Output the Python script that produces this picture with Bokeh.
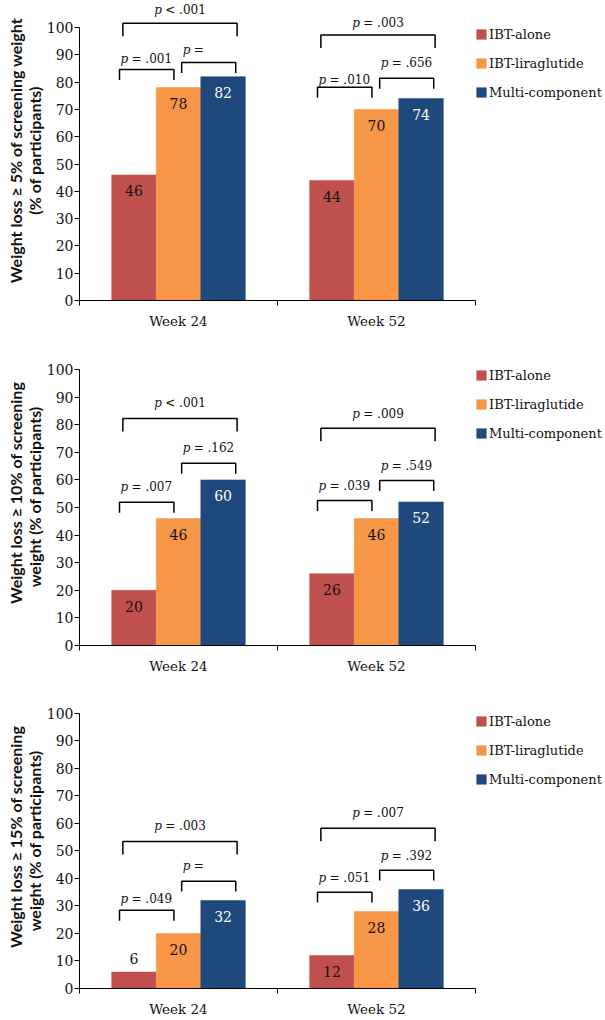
from bokeh.plotting import figure
from bokeh.layouts import column
from bokeh.models import Range1d, FixedTicker, Legend, LegendItem, ColumnDataSource
from bokeh.core.properties import value
from bokeh.embed import file_html
from bokeh.resources import INLINE

# ---------------- data ----------------
groups = ["IBT-alone", "IBT-liraglutide", "Multi-component"]
weeks = ["Week 24", "Week 52"]

loss5_week24 = [46, 78, 82]
loss5_week52 = [44, 70, 74]
loss10_week24 = [20, 46, 60]
loss10_week52 = [26, 46, 52]
loss15_week24 = [6, 20, 32]
loss15_week52 = [12, 28, 36]

# comparisons: (alone vs liraglutide), (liraglutide vs multi), (alone vs multi)
comparisons = [(0, 1), (1, 2), (0, 2)]
p5_week24 = ["= .001", "=", "< .001"]
p5_week52 = ["= .010", "= .656", "= .003"]
p10_week24 = ["= .007", "= .162", "< .001"]
p10_week52 = ["= .039", "= .549", "= .009"]
p15_week24 = ["= .049", "=", "= .003"]
p15_week52 = ["= .051", "= .392", "= .007"]

ylabels = [
    "Weight loss \u2265 5% of screening weight\n(% of participants)",
    "Weight loss \u2265 10% of screening\nweight   (% of participants)",
    "Weight loss \u2265 15% of screening\nweight   (% of participants)",
]

# ---------------- style / layout ----------------
colors = ["#C0504D", "#F79646", "#1F497D"]
label_colors = ["#111111", "#111111", "#FFFFFF"]
SERIF = "DejaVu Serif"
BAR_W = 0.225

panels = [
    dict(vals=[loss5_week24, loss5_week52], pv=[p5_week24, p5_week52], height=340, bb=40, yend=109.9,
         legend_y=198,
         line=[[84.6, 87.2, 101.6], [78.1, 81.4, 97.3]],
         text=[[88.4, 91.9, 106.4], [80.6, 87.1, 101.7]]),
    dict(vals=[loss10_week24, loss10_week52], pv=[p10_week24, p10_week52], height=345, bb=40, yend=110.5,
         legend_y=202,
         line=[[51.9, 66.0, 82.2], [52.5, 59.8, 78.7]],
         text=[[57.4, 71.4, 87.7], [57.7, 64.9, 84.0]]),
    dict(vals=[loss15_week24, loss15_week52], pv=[p15_week24, p15_week52], height=334, bb=29, yend=110.1,
         legend_y=199,
         line=[[28.4, 39.0, 53.4], [35.0, 43.0, 58.2]],
         text=[[32.6, 44.4, 59.1], [40.2, 48.3, 63.6]]),
]
# bracket leg x-offsets relative to bar centres, by comparison type
x_off = {(0, 1): (-0.073, -0.023), (1, 2): (0.016, 0.064), (0, 2): (-0.056, 0.071)}
leg_px = {(0, 1): 10.5, (1, 2): 10.5, (0, 2): 13.0}

FIG_W = 605
BORDER_L = 79
PX_PER_WEEK = 198.0


def centre(week_i, group_j):
    return week_i + 0.5 + (group_j - 1) * BAR_W


def make_panel(k, cfg):
    frame_h = cfg["height"] - cfg["bb"]
    scale = frame_h / cfg["yend"]
    frame_w = FIG_W - BORDER_L
    xend = frame_w / PX_PER_WEEK
    p = figure(width=FIG_W, height=cfg["height"], x_range=Range1d(0, xend),
               y_range=Range1d(0, cfg["yend"]), output_backend="svg",
               toolbar_location=None, min_border_left=BORDER_L, min_border_right=0,
               min_border_top=0, min_border_bottom=cfg["bb"])
    p.outline_line_color = None
    p.xgrid.visible = False
    p.ygrid.visible = False
    p.background_fill_color = "white"

    renderers = []
    for j, g in enumerate(groups):
        src = ColumnDataSource(dict(
            x=[centre(i, j) for i in range(len(weeks))],
            top=[cfg["vals"][i][j] for i in range(len(weeks))],
        ))
        r = p.vbar(x="x", top="top", width=BAR_W, bottom=0, source=src,
                   fill_color=colors[j], line_color=colors[j], line_width=0.5)
        renderers.append(r)

    # value labels
    lx, ly, lt, lc = [], [], [], []
    for i in range(len(weeks)):
        for j in range(len(groups)):
            v = cfg["vals"][i][j]
            inside = v * scale > 25
            lx.append(centre(i, j))
            ly.append(v - 16 / scale if inside else v + 14 / scale)
            lt.append(str(v))
            lc.append(label_colors[j] if inside else "#111111")
    p.text(x=lx, y=ly, text=lt, text_color=lc, text_align="center", text_baseline="middle",
           text_font=value(SERIF), text_font_size="14px")

    # brackets + p values
    bxs, bys, px_, py_, rest = [], [], [], [], []
    for i in range(len(weeks)):
        for c, (a, b) in enumerate(comparisons):
            ox0, ox1 = x_off[(a, b)]
            x0 = centre(i, a) + ox0
            x1 = centre(i, b) + ox1
            yl = cfg["line"][i][c]
            leg = leg_px[(a, b)] / scale
            bxs.append([x0, x0, x1, x1])
            bys.append([yl - leg, yl, yl, yl - leg])
            if b - a == 1:
                tx = x0 + 0.005
            else:
                tx = (x0 + x1) / 2 - 0.13
            px_.append(tx)
            py_.append(cfg["text"][i][c])
            rest.append(cfg["pv"][i][c])
    p.multi_line(xs=bxs, ys=bys, line_color="black", line_width=1.5)
    p.text(x=px_, y=py_, text=["p"] * len(px_), text_align="left", text_baseline="middle",
           text_font=value(SERIF), text_font_style="italic", text_font_size="12px",
           text_color="#111111")
    p.text(x=px_, y=py_, text=rest, text_align="left", text_baseline="middle", x_offset=11,
           text_font=value(SERIF), text_font_size="12px", text_color="#111111")

    # axes
    ya = p.yaxis[0]
    ya.ticker = FixedTicker(ticks=list(range(0, 101, 10)))
    ya.bounds = (0, 100)
    ya.major_tick_out = 5
    ya.major_tick_in = 0
    ya.minor_tick_out = 0
    ya.minor_tick_in = 0
    ya.major_label_standoff = 1
    ya.axis_line_color = "black"
    ya.major_tick_line_color = "black"
    ya.major_label_text_font = SERIF
    ya.major_label_text_font_size = "14px"
    ya.major_label_text_color = "#111111"
    ya.axis_label = ylabels[k]
    ya.axis_label_text_font = "Lato"
    ya.axis_label_text_font_style = "bold"
    ya.axis_label_text_font_size = "16px"
    ya.axis_label_text_color = "#111111"
    ya.axis_label_standoff = 0
    ya.axis_label_text_line_height = 1.0

    xa = p.xaxis[0]
    xa.ticker = FixedTicker(ticks=[i + 0.5 for i in range(len(weeks))],
                            minor_ticks=list(range(len(weeks) + 1)))
    xa.major_label_overrides = {i + 0.5: w for i, w in enumerate(weeks)}
    xa.bounds = (0, len(weeks))
    xa.major_tick_out = 0
    xa.major_tick_in = 0
    xa.minor_tick_out = 5
    xa.minor_tick_in = 0
    xa.minor_tick_line_color = "black"
    xa.axis_line_color = "black"
    xa.major_label_standoff = 7
    xa.major_label_text_font = SERIF
    xa.major_label_text_font_size = "13.5px"
    xa.major_label_text_color = "#111111"

    legend = Legend(items=[LegendItem(label=g, renderers=[renderers[j]]) for j, g in enumerate(groups)],
                    location=(2 * PX_PER_WEEK, cfg["legend_y"]), orientation="vertical",
                    glyph_width=12, glyph_height=12, label_standoff=2, spacing=9, padding=0, margin=0,
                    border_line_color=None, background_fill_alpha=0, label_text_font=SERIF,
                    label_text_font_size="13px", label_height=20, label_text_color="#111111")
    p.add_layout(legend)
    return p


figs = [make_panel(k, cfg) for k, cfg in enumerate(panels)]
layout = column(*figs)
open("out.html", "w").write(file_html(layout, INLINE))
